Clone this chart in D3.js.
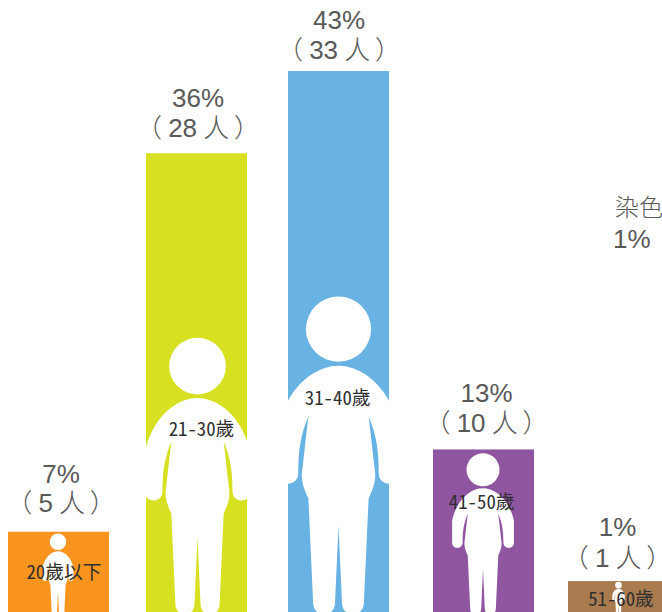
<!DOCTYPE html>
<html>
<head>
<meta charset="utf-8">
<script src="https://cdn.jsdelivr.net/npm/d3@7"></script>
<style>
html,body{margin:0;padding:0;background:#fff;overflow:hidden}
svg{display:block}
</style>
</head>
<body>
<div id="chart"></div>
<script>
// Data
const categories = ["20歲以下", "21-30歲", "31-40歲", "41-50歲", "51-60歲"];
const percents = [7, 36, 43, 13, 1];
const counts = [5, 28, 33, 10, 1];
// Drawn bar length in persons (the 1-person bar is drawn taller than scale).
const barLengths = [5, 28, 33, 10, 2];
const colors = ["#F9941E", "#D7E021", "#68B3E4", "#8F55A0", "#A97B4F"];

// Layout
const W = 662, H = 612;
const barLefts = [8, 146, 288, 433, 568];
const barWidth = 101;
const y = d3.scaleLinear().domain([0, 33]).range([614, 71]);
const figureHeight = d3.scaleLinear().domain([0, 165, 461, 543]).range([0, 161, 276, 317]);
const figureShift = [-0.5, 1, 0, -0.5, 0];
const headerShift = [2.5, 1.5, 0.5, 3, -1];
const pctRaise = [48.5, 46.5, 42.5, 47.2, 45.5];
const countRaise = [19.7, 16.6, 12, 17.8, 14.4];
const catX = [64, 201.5, 337.7, 481.7, 621];
const catY = [572, 429, 398, 502.7, 599];

const svg = d3.select("#chart").append("svg").attr("width", W).attr("height", H);
const defs = svg.append("defs");

// Person silhouette in unit coordinates (height 1, centred on x=0)
const personPath = [
  "M0,.217",
  "C.075,.217 .165,.285 .1925,.42",
  "L.1925,.555",
  "C.1925,.60 .127,.60 .127,.555",
  "C.127,.48 .118,.43 .095,.376",
  "L.116,.56",
  "C.116,.59 .105,.615 .095,.635",
  "L.08,.965",
  "C.08,1.012 .011,1.012 .011,.965",
  "L0,.72",
  "L-.011,.965",
  "C-.011,1.012 -.08,1.012 -.08,.965",
  "L-.095,.635",
  "C-.105,.615 -.116,.59 -.116,.56",
  "L-.095,.376",
  "C-.118,.43 -.127,.48 -.127,.555",
  "C-.127,.60 -.1925,.60 -.1925,.555",
  "L-.1925,.42",
  "C-.165,.285 -.075,.217 0,.217Z"
].join(" ");

const bars = svg.selectAll("g.bar").data(categories).join("g").attr("class", "bar");

bars.each(function (c, i) {
  const g = d3.select(this);
  const top = y(barLengths[i]);
  const h = y(0) - top;
  const cx = barLefts[i] + barWidth / 2;
  const id = "clip" + i;
  defs.append("clipPath").attr("id", id).append("rect")
    .attr("x", barLefts[i]).attr("y", top).attr("width", barWidth).attr("height", h);
  g.append("rect")
    .attr("x", barLefts[i]).attr("y", top).attr("width", barWidth).attr("height", h)
    .attr("fill", colors[i]);
  const fh = figureHeight(h);
  const fig = g.append("g").attr("clip-path", `url(#${id})`)
    .append("g").attr("transform", `translate(${cx + figureShift[i]},${y(0) - fh}) scale(${fh})`).attr("fill", "#fff");
  fig.append("circle").attr("cx", 0).attr("cy", 0.1014).attr("r", 0.1027);
  fig.append("path").attr("d", personPath);

  const tx = cx + headerShift[i];
  g.append("text").attr("x", tx).attr("y", top - pctRaise[i])
    .attr("text-anchor", "middle")
    .attr("font-family", "'Liberation Sans', Arial, sans-serif")
    .attr("font-size", 26).attr("fill", "#595959")
    .text(percents[i] + "%");
  const line2 = g.append("text").attr("x", tx).attr("y", top - countRaise[i])
    .attr("text-anchor", "middle").attr("fill", "#595959")
    .attr("font-size", 26).attr("word-spacing", -1)
    .attr("font-family", "'Liberation Sans', 'Noto Sans CJK TC', sans-serif");
  line2.append("tspan").attr("font-family", "'Noto Sans CJK TC'").attr("font-weight", 300).text("（");
  line2.append("tspan").text(" " + counts[i] + " ");
  line2.append("tspan").attr("font-family", "'Noto Sans CJK TC'").attr("font-weight", 300).text("人");
  line2.append("tspan").attr("font-family", "'Noto Sans CJK TC'").attr("font-weight", 300).text(" ）");

  svg.append("text").attr("class", "cat")
    .attr("x", catX[i]).attr("y", catY[i] + 6.5)
    .attr("text-anchor", "middle")
    .attr("font-family", "'Noto Sans CJK TC', sans-serif")
    .style("font-feature-settings", "'hwid'")
    .attr("font-size", 18.8).attr("fill", "#2f2f2f")
    .text(c);
});

// Clipped side note at the right edge
svg.append("text").attr("x", 615).attr("y", 216)
  .attr("font-family", "'Noto Sans CJK TC', sans-serif").attr("font-weight", 300)
  .attr("font-size", 24).attr("fill", "#595959").text("染色");
svg.append("text").attr("x", 613).attr("y", 248)
  .attr("font-family", "'Liberation Sans', Arial, sans-serif")
  .attr("font-size", 26).attr("fill", "#595959").text("1%");
</script>
</body>
</html>
